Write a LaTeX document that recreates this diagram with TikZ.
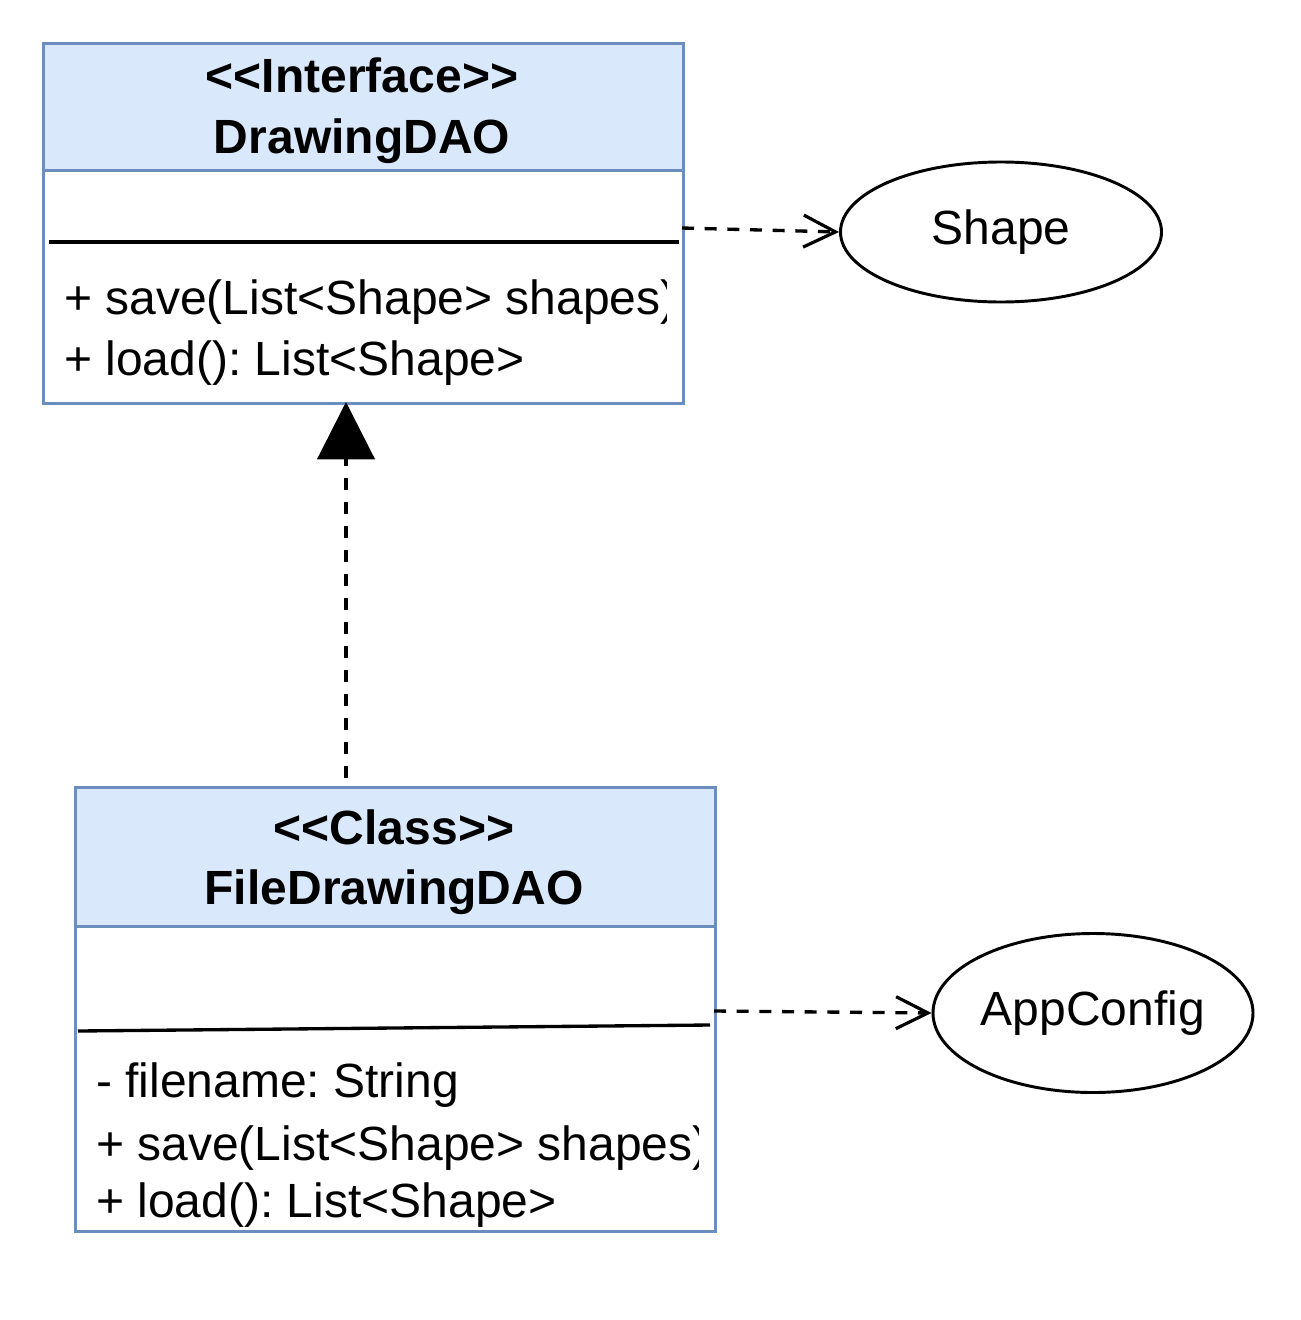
\documentclass[tikz,border=0pt]{standalone}
\usepackage{fontspec}
\setmainfont{Liberation Sans}[Ligatures=TeXOff]
\usetikzlibrary{arrows.meta,shapes.geometric}
\definecolor{hdrfill}{HTML}{DAE8FC}
\definecolor{hdrline}{HTML}{6C8EBF}
\frenchspacing
\begin{document}
\begin{tikzpicture}[x=0.75pt,y=-0.75pt,
  boxframe/.style={draw=hdrline,line width=2.5pt,fill=white,anchor=north west,inner sep=0pt},
  hdrbox/.style={draw=hdrline,line width=2.5pt,fill=hdrfill,anchor=north west,inner sep=0pt},
  txt/.style={inner sep=0pt,font=\fontsize{36}{42}\selectfont},
  btxt/.style={inner sep=0pt,font=\fontsize{36}{42}\selectfont\bfseries},
  oval/.style={draw,ellipse,line width=2.2pt,inner sep=0pt,font=\fontsize{36}{42}\selectfont},
  divider/.style={line width=2.5pt},
  dep/.style={line width=2.5pt,dash pattern=on 9pt off 8pt,-{Straight Barb[length=24pt,width=24pt,line width=2.4pt]}},
  impl/.style={line width=2.4pt,dash pattern=on 9pt off 9pt,-{Triangle[length=43pt,width=43pt]}}]
\useasboundingbox (0,0) rectangle (1300,1320);
% DrawingDAO
\node[boxframe,minimum width=480pt,minimum height=270pt] (dao) at (42,42) {};
\node[hdrbox,minimum width=480pt,minimum height=95.25pt] (daohdr) at (42,42) {};
\node[btxt,anchor=base] (daos) at (362,93) {<<Interface>>};
\node[btxt,anchor=base] (daon) at (362,153) {DrawingDAO};
\coordinate (d1a) at (49,242);
\coordinate (d1b) at (679,242);
\draw[divider] (d1a) -- (d1b);
\begin{scope}
\clip (44,260) rectangle (666,330);
\node[txt,anchor=base west] (daom1) at (64,314) {+ save(List<Shape> shapes)};
\end{scope}
\node[txt,anchor=base west] (daom2) at (64,375) {+ load(): List<Shape>};
% FileDrawingDAO
\node[boxframe,minimum width=480pt,minimum height=333pt] (fdao) at (74,786) {};
\node[hdrbox,minimum width=480pt,minimum height=104.25pt] (fdaohdr) at (74,786) {};
\node[btxt,anchor=base] (fdaos) at (394,844) {<<Class>>};
\node[btxt,anchor=base] (fdaon) at (394,904) {FileDrawingDAO};
\coordinate (d2a) at (78,1031);
\coordinate (d2b) at (710,1025);
\draw[divider] (d2a) -- (d2b);
\node[txt,anchor=base west] (fattr) at (96,1097) {- filename: String};
\begin{scope}
\clip (76,1120) rectangle (698,1175);
\node[txt,anchor=base west] (fm1) at (96,1160) {+ save(List<Shape> shapes)};
\end{scope}
\node[txt,anchor=base west] (fm2) at (96,1217) {+ load(): List<Shape>};
% Ellipses
\node[oval,minimum width=240.75pt,minimum height=105pt] (shape) at (1001,232) {Shape};
\node[oval,minimum width=240pt,minimum height=119.25pt] (appcfg) at (1093,1013) {AppConfig};
% Connectors
\coordinate (s1) at (682,228);
\draw[dep] (s1) -- (shape.west);
\coordinate (s2) at (714,1011);
\draw[dep] (s2) -- (appcfg.west);
\coordinate (i1) at (346,778);
\coordinate (i2) at (346,402);
\draw[impl] (i1) -- (i2);
\end{tikzpicture}
\end{document}
